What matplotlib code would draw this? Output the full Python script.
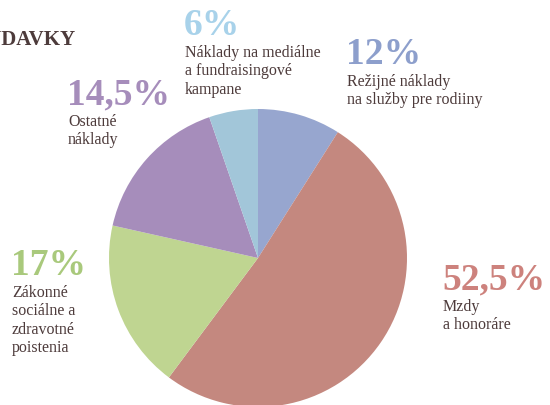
import matplotlib.pyplot as plt

# slice shares (clockwise from top)
shares = [9.0, 51.2, 18.3, 16.2, 5.3]
pct_labels = ['12%', '52,5%', '17%', '14,5%', '6%']
names = ['Režijné náklady\nna služby pre rodiiny',
         'Mzdy\na honoráre',
         'Zákonné\nsociálne a\nzdravotné\npoistenia',
         'Ostatné\nnáklady',
         'Náklady na mediálne\na fundraisingové\nkampane']
colors = ['#97a6cf', '#c4887f', '#bfd591', '#a68dbb', '#a2c6d9']
pct_colors = ['#8d9fcc', '#cd827d', '#a9c97c', '#a68dbb', '#a8d2ea']

W, H = 550, 405
fig = plt.figure(figsize=(5.5, 4.05), dpi=100)
ax = fig.add_axes([0, 0, 1, 1])

ax.pie(shares, colors=colors, startangle=90, counterclock=False,
       center=(258, H - 258), radius=149, frame=True,
       wedgeprops=dict(linewidth=0))
ax.set_aspect('equal')
ax.set_xlim(0, W)
ax.set_ylim(0, H)
ax.axis('off')

serif = 'Liberation Serif'
txt = '#4d3b3b'

# label anchor points in pixels (left x, baseline of the percent)
pos = [(346, 64), (442, 289), (11, 275), (67, 104), (184, 35)]
for (x, y), p, n, c in zip(pos, pct_labels, names, pct_colors):
    ax.text(x, H - y, p, color=c, fontsize=27, fontweight='bold',
            family=serif, va='baseline', ha='left')
    ax.text(x + 1, H - y - 10, n, color=txt, fontsize=11.5, family=serif,
            va='top', ha='left', linespacing=1.2)

# title is cropped at the left edge in the original
ax.text(76, H - 45, 'VÝDAVKY', color=txt, fontsize=15, fontweight='bold',
        family=serif, va='baseline', ha='right')

fig.savefig('out.png', dpi=100)
